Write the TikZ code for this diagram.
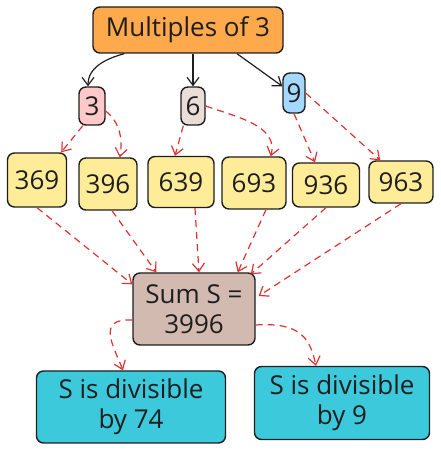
\documentclass[tikz,border=0pt]{standalone}
\usepackage{fontspec}
\setmainfont{Open Sans}
\usetikzlibrary{arrows.meta}
\definecolor{topfill}{HTML}{FFA94D}
\definecolor{threefill}{HTML}{FFC9C9}
\definecolor{sixfill}{HTML}{EADDD7}
\definecolor{ninefill}{HTML}{A5D8FF}
\definecolor{numfill}{HTML}{FFEC99}
\definecolor{sumfill}{HTML}{D2BAB0}
\definecolor{divfill}{HTML}{3BC9DB}
\definecolor{hintred}{HTML}{E03131}
\definecolor{ink}{HTML}{1E1E1E}

\tikzset{
	box/.style={draw=ink, line width=1.4pt, rounded corners=7pt, inner sep=1pt, align=center, font=\fontsize{26}{30}\selectfont, text=ink},
	num/.style={box, fill=numfill},
	link/.style={-{Straight Barb[length=8pt,width=12pt]}, line width=1.2pt, draw=ink},
	hint/.style={link, draw=hintred, dash pattern=on 7pt off 5pt},
}

\begin{document}
\begin{tikzpicture}[x=1pt, y=1pt]
	\useasboundingbox (0,0) rectangle (440,450);
	\node[box, fill=topfill, minimum width=190pt, minimum height=46pt] (top) at (188,420) {Multiples of 3};
	\node[box, fill=threefill, minimum width=26pt, minimum height=38pt] (three) at (92,344) {3};
	\node[box, fill=sixfill, minimum width=24pt, minimum height=38pt] (six) at (193,344) {6};
	\node[box, fill=ninefill, minimum width=22pt, minimum height=40pt] (nine) at (294,357) {9};

	\node[num, minimum width=59pt, minimum height=54pt] (n369) at (37,270) {369};
	\node[num, minimum width=58pt, minimum height=52pt] (n396) at (108,266) {396};
	\node[num, minimum width=66pt, minimum height=51pt] (n639) at (181,268) {639};
	\node[num, minimum width=64pt, minimum height=52pt] (n693) at (254,267) {693};
	\node[num, minimum width=67pt, minimum height=44pt] (n936) at (326,265) {936};
	\node[num, minimum width=64pt, minimum height=42pt] (n963) at (401,268) {963};

	\node[box, fill=sumfill, minimum width=122pt, minimum height=72pt] (sum) at (194,141) {Sum S =\\3996};
	\node[box, fill=divfill, minimum width=189pt, minimum height=72pt] (divA) at (131,43) {S is divisible\\by 74};
	\node[box, fill=divfill, minimum width=175pt, minimum height=73pt] (divB) at (342,47) {S is divisible\\by 9};

	\draw[link] ([xshift=32pt]top.south west) to[out=195,in=90] ([xshift=-4pt]three.north);
	\draw[link] (top.south -| six.north) -- (six.north);
	\draw[link] ([xshift=49pt]top.south) -- (nine.150);

	\draw[hint] (three.-115) -- ([xshift=-6pt]n369.north east);
	\draw[hint] (three.-20) to[out=-40,in=80] ([xshift=-18pt]n396.north east);
	\draw[hint] ([xshift=3pt]six.south west) -- ([xshift=-6pt]n639.north);
	\draw[hint] (six.east) to[out=-20,in=75] ([xshift=-16pt]n693.north east);
	\draw[hint] (nine.south) -- ([xshift=-11pt]n936.north);
	\draw[hint] (nine.east) -- ([xshift=12pt]n963.north west);

	\draw[hint] (n369.south) -- ([yshift=-12pt]sum.north west);
	\draw[hint] ([xshift=4pt]n396.south) -- ([xshift=24pt]sum.north west);
	\draw[hint] ([xshift=14pt]n639.south) -- ([xshift=5pt]sum.north);
	\draw[hint] ([xshift=12pt]n693.south) -- ([xshift=-18pt]sum.north east);
	\draw[hint] (n936.south) -- ([xshift=-5pt,yshift=-2pt]sum.north east);
	\draw[hint] (n963.south) -- ([xshift=3pt,yshift=13pt]sum.east);

	\draw[hint] ([yshift=-11pt]sum.west) .. controls +(-36,2) and +(-10,25) .. ([xshift=-8pt]divA.north);
	\draw[hint] ([yshift=-16pt]sum.east) .. controls +(44,3) and +(-6,28) .. ([xshift=-26pt]divB.north);
\end{tikzpicture}
\end{document}
